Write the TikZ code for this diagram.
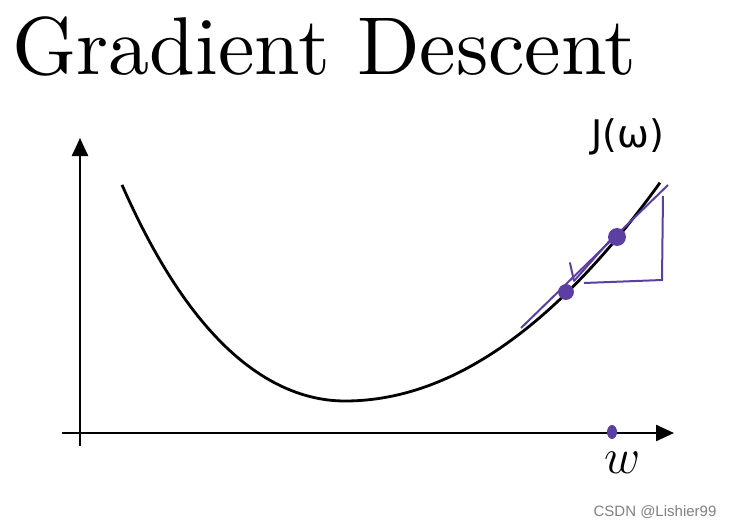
\documentclass[tikz,border=0pt]{standalone}
\usepackage{fontspec}
\newfontfamily\wmfont{Liberation Sans}
\newfontfamily\handfont{DejaVu Sans}
\newfontfamily\titlefont{lmroman10-regular}[Extension=.otf]
\usetikzlibrary{arrows.meta,shapes.geometric}
\definecolor{pen}{HTML}{5B3FA3}
\tikzset{
  axis/.style={line width=1.2pt,-{Triangle[length=9pt,width=8pt]}},
  curve/.style={line width=1.4pt,black,line join=round},
  purple/.style={line width=1pt,pen},
  dot/.style={circle,fill=pen,draw=pen,inner sep=0pt,minimum size=8.5pt}
}
\begin{document}
\begin{tikzpicture}[x=0.5pt,y=-0.5pt]
\useasboundingbox (0,0) rectangle (735,530);
\node[anchor=base west,inner sep=0pt] (title) at (12,75) {\titlefont\fontsize{41}{48}\selectfont Gradient Descent};
% axes
\coordinate (yb) at (80,446);
\coordinate (yt) at (80,138);
\coordinate (xl) at (62,433);
\coordinate (xr) at (674,433);
\draw[axis] (yb) -- (yt);
\draw[axis] (xl) -- (xr);
% curve
\draw[curve] plot[domain=122:345,samples=60,smooth]
  (\x,{401-36*((\x-345)/100)*((\x-345)/100)-1.5*((\x-345)/100)*((\x-345)/100)*((\x-345)/100)*((\x-345)/100)})
  -- plot[domain=345:660,samples=60,smooth]
  (\x,{401-22*((\x-345)/100)*((\x-345)/100)});
% tangent and triangle
\coordinate (t1) at (521,328);
\coordinate (t2) at (668,185);
\draw[purple] (t1) -- (t2);
\coordinate (tv1) at (663,196);
\coordinate (tv2) at (662,280);
\coordinate (th) at (584,283);
\draw[purple] (tv1) -- (tv2) -- (th);
% arrow
\node[dot] (big) at (617,237) {};
\node[dot,minimum size=7.5pt] (small) at (566,292) {};
\coordinate (ah) at (574,281);
\coordinate (ab) at (570,263);
\draw[purple] ([xshift=-2pt]big.center) -- (ah);
\draw[purple,line cap=round] (ab) -- (ah);
% w dot
\node[ellipse,fill=pen,inner sep=0pt,minimum width=5pt,minimum height=7pt] (wd) at (612,432) {};
% labels
\node[inner sep=0pt] (J) at (628,137) {\handfont\fontsize{19}{22}\selectfont J(ω)};
\node[inner sep=0pt] (w) at (623,463) {\fontsize{27}{30}\selectfont$w$};
\node[inner sep=0pt,text=gray] (wm) at (655,512) {\wmfont\fontsize{7.5}{9}\selectfont CSDN @Lishier99};
\end{tikzpicture}
\end{document}
